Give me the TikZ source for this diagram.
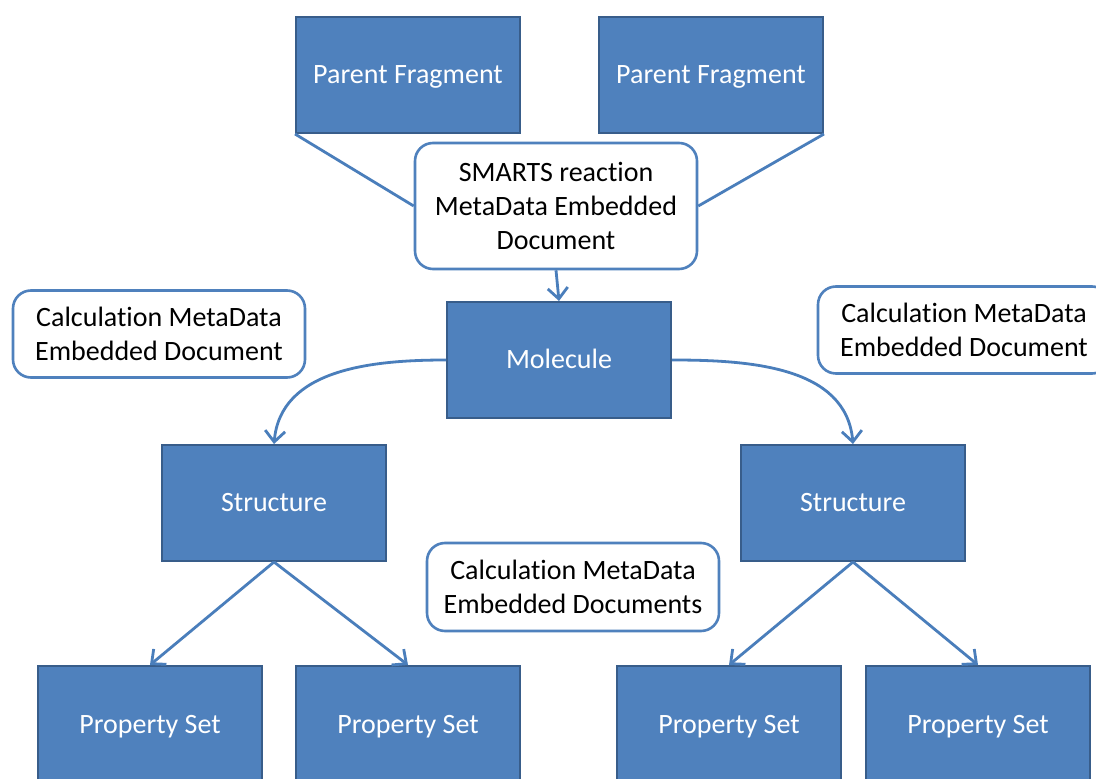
\documentclass[tikz,border=0pt]{standalone}
\usepackage{fontspec}
\setmainfont[Ligatures=NoCommon]{Carlito}
\usepackage{xcolor}
\usetikzlibrary{arrows.meta,positioning}
\definecolor{boxBlue}{HTML}{4F81BD}
\definecolor{edgeBlue}{HTML}{385D8A}
\definecolor{lineBlue}{HTML}{4A7EBB}

\begin{document}
\begin{tikzpicture}[
  x=0.5pt, y=-0.5pt,
  entity/.style={rectangle, draw=edgeBlue, line width=1pt, fill=boxBlue, text=white, minimum width=112pt, minimum height=58pt, inner sep=0pt, text height=10pt, text depth=1pt, font=\fontsize{14}{17}\selectfont},
  meta/.style={rectangle, rounded corners=9pt, draw=boxBlue, line width=1.3pt, fill=white, text=black, align=center, inner sep=0pt, font=\fontsize{14}{17}\selectfont},
  link/.style={draw=lineBlue, line width=1.4pt},
  arrow/.style={link, -{Straight Barb[length=5.5pt,width=10pt,line width=1.4pt]}}
]
\useasboundingbox (0,0) rectangle (1096,779);
\clip (0,0) rectangle (1096,779);
\fill[white] (0,0) rectangle (1096,779);

% fragments and the reaction document
\node[entity] (frag1) at (408,75) {Parent Fragment};
\node[entity] (frag2) at (711,75) {Parent Fragment};
\node[meta, minimum width=141pt, minimum height=63pt] (smarts) at (556,206) {SMARTS reaction\\MetaData Embedded\\Document};
\draw[link] (frag1.south west) -- (smarts.west);
\draw[link] (frag2.south east) -- (smarts.east);

% molecule and structures
\node[entity] (mol) at (559,360) {Molecule};
\node[entity] (struct1) at (274,503) {Structure};
\node[entity] (struct2) at (853,503) {Structure};
\draw[arrow] (smarts.south) -- (mol.north);
\draw[arrow] (mol.west) to[out=180,in=85] (struct1.north);
\draw[arrow] (mol.east) to[out=0,in=95] (struct2.north);

\node[meta, minimum width=146pt, minimum height=43.5pt] (calc1) at (159,334) {Calculation MetaData\\Embedded Document};
\node[meta, minimum width=146pt, minimum height=43.5pt] (calc2) at (964,330) {Calculation MetaData\\Embedded Document};
\node[meta, minimum width=146pt, minimum height=44pt] (calc3) at (573,587) {Calculation MetaData\\Embedded Documents};

% property sets
\node[entity] (prop1) at (150,724) {Property Set};
\node[entity] (prop2) at (408,724) {Property Set};
\node[entity] (prop3) at (729,724) {Property Set};
\node[entity] (prop4) at (978,724) {Property Set};
\draw[arrow] (struct1.south) -- (prop1.north);
\draw[arrow] (struct1.south) -- (prop2.north);
\draw[arrow] (struct2.south) -- (prop3.north);
\draw[arrow] (struct2.south) -- (prop4.north);
\end{tikzpicture}
\end{document}
